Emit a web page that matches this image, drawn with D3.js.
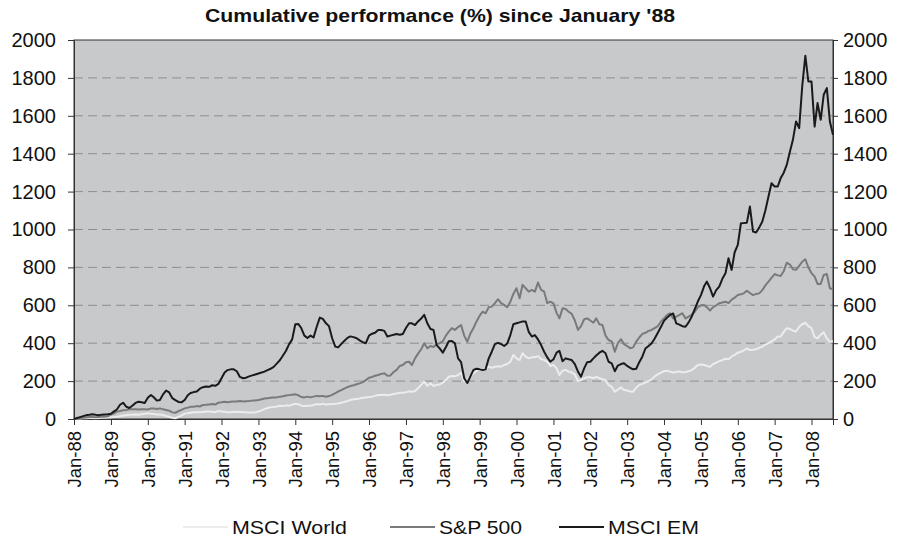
<!DOCTYPE html>
<html>
<head>
<meta charset="utf-8">
<script src="https://cdn.jsdelivr.net/npm/d3@7"></script>
<style>
  body { margin: 0; background: #fff; }
  text { font-family: "Liberation Sans", Arial, sans-serif; fill: #111; }
</style>
</head>
<body>
<svg id="chart" width="899" height="550"></svg>
<script>
// monthly cumulative performance (%), Jan-88 .. Aug-08
const msciWorld = [
  0, 2, 3, 4, 4, 5, 5, 4, 5, 6, 7, 8,
  9, 10, 12, 15, 18, 20, 22, 22, 24, 22, 25, 28,
  30, 28, 26, 24, 24, 21, 16, 12, 6, 4, 12, 18,
  28, 30, 33, 35, 36, 35, 37, 39, 40, 38, 36, 42,
  40, 38, 35, 36, 38, 37, 38, 36, 35, 34, 34, 36,
  40, 45, 52, 58, 62, 63, 66, 70, 68, 72, 70, 76,
  80, 78, 70, 68, 70, 70, 74, 79, 76, 80, 76, 78,
  79, 80, 82, 86, 90, 95, 100, 104, 106, 108, 112, 114,
  116, 118, 122, 127, 127, 128, 125, 128, 132, 135, 139, 139,
  141, 146, 144, 148, 162, 180, 197, 175, 188, 174, 180, 182,
  192, 205, 223, 227, 225, 232, 244, 200, 205, 230, 241, 255,
  262, 258, 267, 276, 270, 276, 278, 276, 285, 290, 302, 338,
  320, 311, 347, 329, 320, 326, 326, 332, 315, 312, 302, 280,
  285, 267, 232, 255, 259, 250, 245, 235, 200, 205, 215, 220,
  220, 215, 223, 215, 210, 206, 180, 170, 144, 155, 167, 153,
  150, 145, 144, 165, 180, 185, 192, 200, 209, 225, 235, 245,
  252, 255, 250, 245, 248, 252, 245, 248, 252, 258, 270, 285,
  288, 285, 280, 275, 290, 297, 305, 311, 318, 315, 330, 338,
  350, 355, 362, 372, 364, 365, 368, 375, 382, 392, 400, 410,
  420, 435, 435, 460, 479, 475, 466, 462, 487, 500, 508, 490,
  479, 432, 426, 445, 458, 425, 408, 410
];
const sp500 = [
  0, 3, 5, 6, 8, 10, 10, 9, 11, 12, 12, 14,
  24, 30, 39, 42, 46, 48, 51, 52, 51, 50, 51, 52,
  50, 56, 55, 53, 56, 51, 48, 44, 35, 33, 42, 48,
  56, 60, 64, 65, 68, 66, 74, 75, 77, 79, 76, 86,
  88, 91, 89, 91, 93, 92, 95, 93, 94, 95, 97, 98,
  100, 104, 108, 110, 112, 114, 114, 118, 120, 124, 126, 128,
  130, 125, 116, 114, 118, 114, 118, 122, 120, 122, 117, 121,
  127, 136, 145, 152, 160, 168, 174, 178, 183, 188, 195, 205,
  218, 222, 228, 232, 238, 241, 228, 230, 248, 259, 280, 285,
  300, 302, 285, 320, 345, 368, 400, 373, 385, 380, 395, 400,
  410, 440, 461, 479, 470, 485, 496, 440, 408, 450, 480, 515,
  545, 566, 558, 590, 593, 611, 632, 611, 602, 590, 619, 660,
  690, 637, 708, 690, 672, 681, 672, 720, 681, 672, 611, 619,
  610, 560, 531, 584, 580, 566, 555, 520, 470, 490, 526, 531,
  520, 508, 531, 500, 496, 440, 417, 410, 355, 400, 421, 395,
  385, 373, 378, 408, 430, 449, 455, 465, 470, 480, 490, 513,
  531, 549, 558, 531, 540, 550, 558, 531, 540, 549, 566, 590,
  600, 602, 590, 572, 590, 600, 611, 615, 619, 611, 630, 640,
  654, 658, 663, 677, 665, 654, 660, 663, 680, 705, 725, 745,
  765, 758, 755, 780, 825, 815, 790, 787, 808, 830, 843, 800,
  770, 751, 713, 713, 760, 765, 690, 685
];
const msciEM = [
  0, 5, 10, 15, 20, 22, 25, 22, 20, 23, 24, 25,
  28, 40, 50, 75, 86, 65, 58, 70, 85, 91, 88, 84,
  112, 127, 115, 97, 100, 130, 150, 140, 110, 100, 90, 88,
  100, 125, 137, 142, 145, 160, 168, 172, 170, 178, 175, 185,
  215, 245, 258, 262, 262, 252, 222, 215, 218, 225, 230, 235,
  240, 245, 250, 258, 265, 275, 292, 310, 335, 360, 395, 420,
  500, 501, 480, 440, 427, 440, 430, 487, 535, 528, 505, 490,
  426, 382, 378, 395, 412, 428, 436, 432, 426, 415, 405, 400,
  440, 450, 455, 470, 470, 465, 435, 440, 445, 449, 445, 449,
  480, 505, 505, 496, 515, 530, 550, 505, 475, 470, 390, 373,
  350, 380, 410, 412, 400, 320, 300, 215, 190, 225, 259, 265,
  262, 258, 262, 320, 355, 395, 402, 396, 385, 398, 443, 500,
  505, 510, 515, 515, 460, 435, 443, 420, 390, 355, 325, 302,
  315, 350, 360, 305, 320, 315, 311, 290, 250, 223, 267, 300,
  302, 320, 335, 350, 360, 347, 302, 294, 252, 282, 290, 294,
  280, 270, 262, 265, 300, 330, 372, 385, 400, 425, 455, 485,
  518, 535, 549, 557, 505, 498, 490, 487, 510, 540, 580, 620,
  654, 700, 725, 690, 646, 680, 699, 740, 769, 848, 787, 880,
  919, 1033, 1034, 1036, 1121, 989, 984, 1010, 1042, 1100, 1174, 1244,
  1227, 1227, 1270, 1300, 1341, 1410, 1473, 1570, 1535, 1755, 1917, 1781,
  1781, 1543, 1667, 1579, 1711, 1746, 1570, 1500
];
const seriesNames = ["MSCI World", "S&P 500", "MSCI EM"];
const seriesColors = ["#ececec", "#7a7a7a", "#1a1a1a"];
const yTicks = [0, 200, 400, 600, 800, 1000, 1200, 1400, 1600, 1800, 2000];
const tickYears = d3.range(1988, 2009);

const svg = d3.select("#chart");
const plotL = 74, plotR = 833, plotT = 40, plotB = 419;

const months = msciEM.map((d, i) => new Date(1988, i, 1));
const x = d3.scaleTime()
    .domain([months[0], months[months.length - 1]])
    .range([plotL, plotR]);
const y = d3.scaleLinear().domain([0, 2000]).range([plotB, plotT]);

// plot background
svg.append("rect")
    .attr("x", plotL).attr("y", plotT)
    .attr("width", plotR - plotL).attr("height", plotB - plotT)
    .attr("fill", "#c8c9cb");

// dashed gridlines
svg.append("g")
    .selectAll("line")
    .data(yTicks.filter(d => d > 0 && d < 2000))
    .enter()
    .append("line")
    .attr("x1", plotL).attr("x2", plotR)
    .attr("y1", d => y(d)).attr("y2", d => y(d))
    .attr("stroke", "#8e8e8e")
    .attr("stroke-width", 1)
    .attr("stroke-dasharray", "9,5");

// frame
svg.append("rect")
    .attr("x", plotL).attr("y", plotT)
    .attr("width", plotR - plotL).attr("height", plotB - plotT)
    .attr("fill", "none")
    .attr("stroke", "#333")
    .attr("stroke-width", 1);

// y axes on both sides
const yLeft = svg.append("g")
    .attr("transform", `translate(${plotL},0)`)
    .call(d3.axisLeft(y).tickValues(yTicks).tickFormat(d3.format("d"))
        .tickSize(6).tickPadding(12));
const yRight = svg.append("g")
    .attr("transform", `translate(${plotR},0)`)
    .call(d3.axisRight(y).tickValues(yTicks).tickFormat(d3.format("d"))
        .tickSize(5).tickPadding(5));

[yLeft, yRight].forEach(g => {
    g.select(".domain").attr("stroke", "#333");
    g.selectAll(".tick line").attr("stroke", "#333");
    g.selectAll("text")
        .style("font-size", "20px")
        .attr("fill", "#111");
});

// x axis with rotated labels
const xAxis = svg.append("g")
    .attr("transform", `translate(0,${plotB})`)
    .call(d3.axisBottom(x)
        .tickValues(tickYears.map(yr => new Date(yr, 0, 1)))
        .tickFormat(d3.timeFormat("%b-%y"))
        .tickSize(6));
xAxis.select(".domain").attr("stroke", "#333");
xAxis.selectAll(".tick line").attr("stroke", "#333");
xAxis.selectAll("text")
    .attr("transform", "rotate(-90)")
    .attr("text-anchor", "end")
    .attr("x", -12)
    .attr("y", 0)
    .attr("dy", "0.36em")
    .style("font-size", "18.5px")
    .attr("fill", "#111");

// lines
const series = [msciWorld, sp500, msciEM];
const line = d3.line()
    .x((d, i) => x(months[i]))
    .y(d => y(d));

svg.append("g")
    .selectAll("path")
    .data(series)
    .enter()
    .append("path")
    .attr("d", line)
    .attr("fill", "none")
    .attr("stroke", (d, i) => seriesColors[i])
    .attr("stroke-width", 2)
    .attr("stroke-linejoin", "round");

// title
svg.append("text")
    .attr("x", 440)
    .attr("y", 22)
    .attr("text-anchor", "middle")
    .attr("textLength", 470)
    .attr("lengthAdjust", "spacingAndGlyphs")
    .style("font-size", "19px")
    .style("font-weight", "bold")
    .text("Cumulative performance (%) since January '88");

// legend
const legendX = [183, 390, 559];
const legendW = [115, 83, 91];
const legend = svg.append("g");
seriesNames.forEach((name, i) => {
    legend.append("line")
        .attr("x1", legendX[i]).attr("x2", legendX[i] + 45)
        .attr("y1", 527).attr("y2", 527)
        .attr("stroke", seriesColors[i])
        .attr("stroke-width", 2);
    legend.append("text")
        .attr("x", legendX[i] + 49)
        .attr("y", 534)
        .attr("textLength", legendW[i])
        .attr("lengthAdjust", "spacingAndGlyphs")
        .style("font-size", "19px")
        .text(name);
});
</script>
</body>
</html>
